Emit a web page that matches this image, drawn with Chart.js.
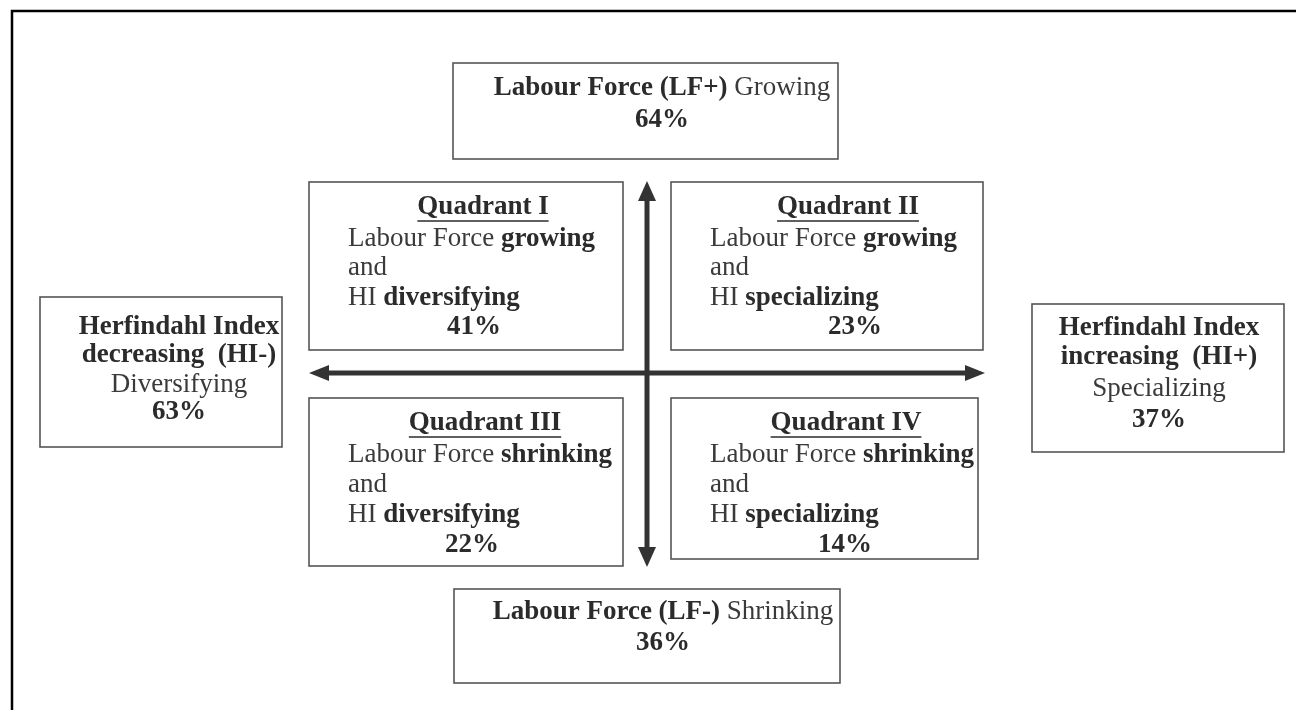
<!DOCTYPE html>
<html>
<head>
<meta charset="utf-8">
<script src="https://cdn.jsdelivr.net/npm/chart.js@4.4.1/dist/chart.umd.min.js"></script>
<style>
  html, body { margin: 0; padding: 0; background: #fff; }
  canvas { display: block; }
</style>
</head>
<body>
<canvas id="diagram" width="1296" height="710"></canvas>
<script>
// values of the diagram
const quadrantNames = ['Quadrant I', 'Quadrant II', 'Quadrant III', 'Quadrant IV'];
const quadrantLF = ['growing', 'growing', 'shrinking', 'shrinking'];
const quadrantHI = ['diversifying', 'specializing', 'diversifying', 'specializing'];
const quadrantShares = [41, 23, 22, 14];

const lfLabels = ['Labour Force (LF+)', 'Labour Force (LF-)'];
const lfTrend = ['Growing', 'Shrinking'];
const lfShares = [64, 36];

const hiLabels = [['Herfindahl Index', 'decreasing  (HI-)'], ['Herfindahl Index', 'increasing  (HI+)']];
const hiTrend = ['Diversifying', 'Specializing'];
const hiShares = [63, 37];

// placement, in scale units (1 unit = 1 px here)
const frame = { x0: 12, y0: 11, x1: 1296, y1: 712 };
const cross = { x: 647, y: 373, left: 309, right: 985, top: 181, bottom: 567 };
const quadBoxes = [
    { x0: 309, y0: 182, x1: 623, y1: 350, title: 483, left: 348, pct: 474, rows: [207, 239, 268, 298, 327] },
    { x0: 671, y0: 182, x1: 983, y1: 350, title: 848, left: 710, pct: 855, rows: [207, 239, 268, 298, 327] },
    { x0: 309, y0: 398, x1: 623, y1: 566, title: 485, left: 348, pct: 472, rows: [423, 455, 485, 515, 545] },
    { x0: 671, y0: 398, x1: 978, y1: 559, title: 846, left: 710, pct: 845, rows: [423, 455, 485, 515, 545] }
];
const lfBoxes = [
    { x0: 453, y0: 63, x1: 838, y1: 159, cx: 662, rows: [88, 120] },
    { x0: 454, y0: 589, x1: 840, y1: 683, cx: 663, rows: [612, 643] }
];
const hiBoxes = [
    { x0: 40, y0: 297, x1: 282, y1: 447, cx: 179, rows: [327, 355, 385, 412] },
    { x0: 1032, y0: 304, x1: 1284, y1: 452, cx: 1159, rows: [328, 357, 389, 420] }
];

const FONT = '"Liberation Serif", "DejaVu Serif", serif';
const SIZE = 27;
const INK_BOLD = '#2b2b2b';
const INK = '#3a3a3a';

function setFont(ctx, bold) {
    ctx.font = (bold ? 'bold ' : '') + SIZE + 'px ' + FONT;
}

// draws a line made of [text, bold] parts, aligned 'left' or 'center' at px,py
function richLine(ctx, parts, px, py, align) {
    let total = 0;
    parts.forEach(p => { setFont(ctx, p[1]); total += ctx.measureText(p[0]).width; });
    let x = align === 'center' ? px - total / 2 : px;
    const start = x;
    ctx.textAlign = 'left';
    ctx.textBaseline = 'middle';
    parts.forEach(p => {
        setFont(ctx, p[1]);
        ctx.fillStyle = p[1] ? INK_BOLD : INK;
        ctx.fillText(p[0], x, py);
        x += ctx.measureText(p[0]).width;
    });
    return { start: start, width: total };
}

function box(ctx, X, Y, b) {
    ctx.strokeStyle = '#555';
    ctx.lineWidth = 1.6;
    ctx.strokeRect(X(b.x0), Y(b.y0), X(b.x1) - X(b.x0), Y(b.y1) - Y(b.y0));
}

function arrowHead(ctx, tx, ty, dx, dy, len, half) {
    // tip at (tx,ty), pointing along (dx,dy)
    const bx = tx - dx * len, by = ty - dy * len;
    ctx.beginPath();
    ctx.moveTo(tx, ty);
    ctx.lineTo(bx - dy * half, by + dx * half);
    ctx.lineTo(bx + dy * half, by - dx * half);
    ctx.closePath();
    ctx.fill();
}

const diagramPlugin = {
    id: 'quadrantDiagram',
    afterDraw(chart) {
        const ctx = chart.ctx;
        const X = v => chart.scales.x.getPixelForValue(v);
        const Y = v => chart.scales.y.getPixelForValue(v);
        ctx.save();

        // outer frame (top and left edges)
        ctx.strokeStyle = '#000';
        ctx.lineWidth = 2.5;
        ctx.beginPath();
        ctx.moveTo(X(frame.x1), Y(frame.y0));
        ctx.lineTo(X(frame.x0), Y(frame.y0));
        ctx.lineTo(X(frame.x0), Y(frame.y1));
        ctx.stroke();

        // cross of arrows
        ctx.strokeStyle = '#333';
        ctx.fillStyle = '#333';
        ctx.lineWidth = 5;
        ctx.beginPath();
        ctx.moveTo(X(cross.left) + 15, Y(cross.y));
        ctx.lineTo(X(cross.right) - 15, Y(cross.y));
        ctx.moveTo(X(cross.x), Y(cross.top) + 15);
        ctx.lineTo(X(cross.x), Y(cross.bottom) - 15);
        ctx.stroke();
        arrowHead(ctx, X(cross.left), Y(cross.y), -1, 0, 20, 8);
        arrowHead(ctx, X(cross.right), Y(cross.y), 1, 0, 20, 8);
        arrowHead(ctx, X(cross.x), Y(cross.top), 0, -1, 20, 9);
        arrowHead(ctx, X(cross.x), Y(cross.bottom), 0, 1, 20, 9);

        // quadrant boxes
        quadBoxes.forEach((b, i) => {
            box(ctx, X, Y, b);
            const t = richLine(ctx, [[quadrantNames[i], true]], X(b.title), Y(b.rows[0]), 'center');
            ctx.strokeStyle = INK_BOLD;
            ctx.lineWidth = 1.3;
            ctx.beginPath();
            ctx.moveTo(t.start, Y(b.rows[0]) + 14);
            ctx.lineTo(t.start + t.width, Y(b.rows[0]) + 14);
            ctx.stroke();
            richLine(ctx, [['Labour Force ', false], [quadrantLF[i], true]], X(b.left), Y(b.rows[1]), 'left');
            richLine(ctx, [['and', false]], X(b.left), Y(b.rows[2]), 'left');
            richLine(ctx, [['HI ', false], [quadrantHI[i], true]], X(b.left), Y(b.rows[3]), 'left');
            richLine(ctx, [[quadrantShares[i] + '%', true]], X(b.pct), Y(b.rows[4]), 'center');
        });

        // labour force boxes (top / bottom)
        lfBoxes.forEach((b, i) => {
            box(ctx, X, Y, b);
            richLine(ctx, [[lfLabels[i] + ' ', true], [lfTrend[i], false]], X(b.cx), Y(b.rows[0]), 'center');
            richLine(ctx, [[lfShares[i] + '%', true]], X(b.cx), Y(b.rows[1]), 'center');
        });

        // herfindahl boxes (left / right)
        hiBoxes.forEach((b, i) => {
            box(ctx, X, Y, b);
            richLine(ctx, [[hiLabels[i][0], true]], X(b.cx), Y(b.rows[0]), 'center');
            richLine(ctx, [[hiLabels[i][1], true]], X(b.cx), Y(b.rows[1]), 'center');
            richLine(ctx, [[hiTrend[i], false]], X(b.cx), Y(b.rows[2]), 'center');
            richLine(ctx, [[hiShares[i] + '%', true]], X(b.cx), Y(b.rows[3]), 'center');
        });

        ctx.restore();
    }
};

new Chart(document.getElementById('diagram'), {
    type: 'scatter',
    data: { datasets: [] },
    options: {
        responsive: false,
        animation: false,
        devicePixelRatio: 1,
        layout: { padding: 0 },
        plugins: { legend: { display: false }, tooltip: { enabled: false } },
        scales: {
            x: { type: 'linear', min: 0, max: 1296, display: false },
            y: { type: 'linear', min: 0, max: 710, reverse: true, display: false }
        }
    },
    plugins: [diagramPlugin]
});
</script>
</body>
</html>
